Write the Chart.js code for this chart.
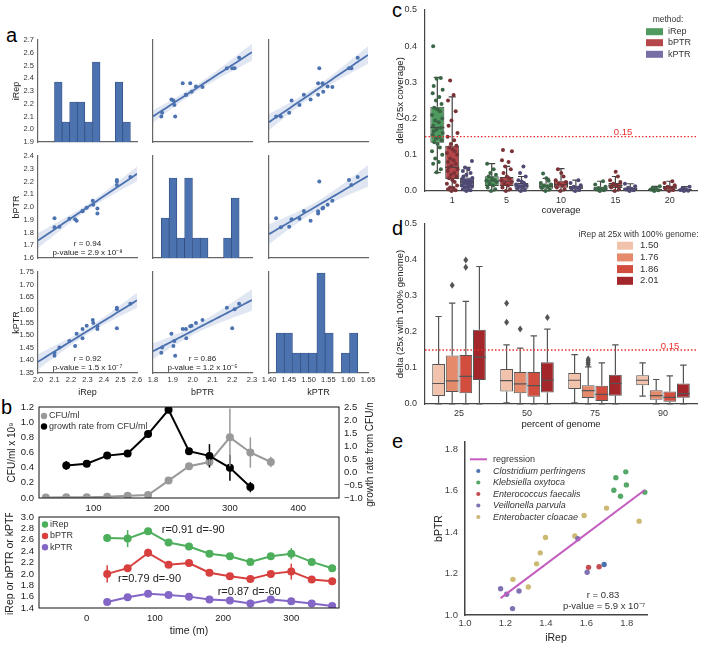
<!DOCTYPE html>
<html>
<head>
<meta charset="utf-8">
<title>replication rate figure</title>
<script src="https://cdn.jsdelivr.net/npm/chart.js@4.4.1/dist/chart.umd.min.js"></script>
<style>
  body { margin: 0; width: 704px; height: 651px; background: #fff; position: relative; overflow: hidden;
         font-family: 'Liberation Sans', Arial, sans-serif; }
  canvas { position: absolute; }
  .tag { position: absolute; font-size: 20px; line-height: 20px; color: #000; }
</style>
</head>
<body>
<div class="tag" style="left:6px;top:25px">a</div>
<div class="tag" style="left:1px;top:397px">b</div>
<div class="tag" style="left:392px;top:0px">c</div>
<div class="tag" style="left:392px;top:218px">d</div>
<div class="tag" style="left:392px;top:431px">e</div>
<script>
// ---------- a: the same 17 samples in every cell of the pair grid ----------
var iRep = [2.10, 2.10, 2.13, 2.19, 2.225, 2.234, 2.27, 2.27, 2.295, 2.332, 2.335, 2.36, 2.36, 2.478, 2.478, 2.478, 2.56];
var bPTR = [1.842, 1.912, 1.846, 1.908, 1.903, 1.893, 1.968, 1.966, 1.995, 2.05, 2.017, 1.95, 1.988, 2.173, 2.212, 2.20, 2.235];
var kPTR = [1.430, 1.418, 1.451, 1.477, 1.457, 1.505, 1.488, 1.524, 1.537, 1.560, 1.548, 1.524, 1.535, 1.608, 1.602, 1.527, 1.624];
var aNames = ['iRep', 'bPTR', 'kPTR'];
var aXRange = [[2.0, 2.6], [1.8, 2.3], [1.40, 1.65]];
var aYRange = [[1.9, 2.7], [1.6, 2.4], [1.35, 1.75]];
var aStep = [0.1, 0.1, 0.05];
var aDec = [1, 1, 2];
var aCorr = {
  '1,0': ['r = 0.94', 'p-value = 2.9 x 10⁻⁸'],
  '2,0': ['r = 0.92', 'p-value = 1.5 x 10⁻⁷'],
  '2,1': ['r = 0.86', 'p-value = 1.2 x 10⁻⁵']
};

// ---------- b: time course ----------
var cfuTime = [30, 60, 90, 120, 150, 180, 210, 240, 270, 300, 330, 360];
var cfu = [0.005, 0.01, 0.01, 0.015, 0.03, 0.04, 0.23, 0.42, 0.475, 0.80, 0.60, 0.475];
var cfuErr = [0, 0, 0, 0, 0, 0, 0, 0.02, 0.04, 0.38, 0.2, 0.07];
var rateTime = [60, 90, 120, 150, 180, 210, 240, 270, 300, 330];
var rate = [0.25, 0.32, 0.63, 0.71, 1.46, 2.39, 0.80, 0.62, 0.16, -0.58];
var rateErr = [0.17, 0, 0, 0, 0, 0, 0, 0.45, 0.5, 0.2];
var ptrTime = [30, 60, 90, 120, 150, 180, 210, 240, 270, 300, 330, 360];
var iRepT = [2.63, 2.62, 2.75, 2.55, 2.48, 2.355, 2.31, 2.21, 2.31, 2.355, 2.21, 2.10];
var iRepTErr = [0.06, 0.15, 0.02, 0, 0, 0, 0, 0, 0, 0.1, 0, 0];
var bPTRT = [2.00, 2.10, 2.37, 2.16, 2.19, 2.02, 1.96, 1.91, 2.00, 2.04, 1.90, 1.87];
var bPTRTErr = [0.15, 0.02, 0.07, 0.04, 0, 0, 0, 0, 0, 0.14, 0, 0];
var kPTRT = [1.505, 1.59, 1.65, 1.63, 1.60, 1.55, 1.53, 1.48, 1.55, 1.52, 1.48, 1.435];

// ---------- c: delta vs coverage ----------
var covLabels = ['1', '5', '10', '15', '20'];
var cIRep = { lo: [0.051, 0, 0, 0, 0], q1: [0.133, 0.014, 0.0065, 0.002, 0.002], med: [0.175, 0.028, 0.013, 0.006, 0.004],
              q3: [0.2325, 0.0406, 0.021, 0.012, 0.0055], hi: [0.314, 0.0757, 0.035, 0.027, 0.013] };
var cBPTR = { lo: [0, 0, 0, 0, 0], q1: [0.033, 0.014, 0.009, 0.008, 0.004], med: [0.065, 0.027, 0.018, 0.015, 0.009],
              q3: [0.125, 0.039, 0.0286, 0.022, 0.014], hi: [0.26, 0.068, 0.062, 0.04, 0.027] };
var cKPTR = { lo: [0, 0, 0, 0, 0], q1: [0.011, 0.006, 0.0046, 0.003, 0.001], med: [0.025, 0.014, 0.009, 0.006, 0.003],
              q3: [0.037, 0.022, 0.014, 0.01, 0.0055], hi: [0.065, 0.04, 0.03, 0.02, 0.012] };
var cIRepPts = [
  [0.052, 0.06, 0.075, 0.08, 0.09, 0.1, 0.11, 0.12, 0.13, 0.135, 0.14, 0.145, 0.15, 0.155, 0.16, 0.165, 0.17, 0.175, 0.18, 0.19, 0.195, 0.2, 0.21, 0.22, 0.225, 0.23, 0.24, 0.25, 0.26, 0.27, 0.28, 0.29, 0.31, 0.312, 0.4],
  [0, 0.005, 0.01, 0.015, 0.02, 0.025, 0.028, 0.03, 0.035, 0.04, 0.045, 0.05, 0.06, 0.075],
  [0, 0.004, 0.008, 0.012, 0.015, 0.018, 0.022, 0.028, 0.035, 0.048],
  [0, 0.002, 0.004, 0.006, 0.008, 0.012, 0.018, 0.027],
  [0, 0.002, 0.004, 0.006, 0.009, 0.013]
];
var cBPTRPts = [
  [0, 0.002, 0.005, 0.008, 0.01, 0.015, 0.02, 0.025, 0.03, 0.035, 0.04, 0.045, 0.05, 0.055, 0.06, 0.065, 0.07, 0.075, 0.08, 0.085, 0.09, 0.1, 0.105, 0.11, 0.115, 0.12, 0.125, 0.13, 0.14, 0.15, 0.16, 0.18, 0.195, 0.22, 0.25, 0.265, 0.305],
  [0, 0.005, 0.01, 0.015, 0.02, 0.025, 0.03, 0.035, 0.04, 0.05, 0.06, 0.068, 0.08, 0.085, 0.11, 0.113],
  [0, 0.005, 0.01, 0.015, 0.02, 0.025, 0.03, 0.04, 0.05, 0.06],
  [0, 0.005, 0.01, 0.015, 0.02, 0.025, 0.03, 0.04, 0.053],
  [0, 0.003, 0.006, 0.009, 0.012, 0.016, 0.022, 0.027]
];
var cKPTRPts = [
  [0, 0.002, 0.005, 0.008, 0.01, 0.012, 0.015, 0.018, 0.02, 0.022, 0.025, 0.028, 0.03, 0.033, 0.036, 0.04, 0.045, 0.05, 0.055, 0.06, 0.065, 0.083],
  [0, 0.003, 0.006, 0.009, 0.012, 0.015, 0.018, 0.022, 0.026, 0.03, 0.04, 0.05, 0.068],
  [0, 0.003, 0.006, 0.009, 0.012, 0.016, 0.022, 0.03],
  [0, 0.002, 0.004, 0.006, 0.009, 0.013, 0.02],
  [0, 0.001, 0.003, 0.005, 0.008, 0.012]
];

// ---------- d: delta vs percent of genome ----------
var pctLabels = ['25', '50', '75', '90'];
var dLevels = ['1.50', '1.76', '1.86', '2.01'];
var d150 = { lo: [0, 0.003, 0.003, 0.022], q1: [0.022, 0.035, 0.042, 0.052], med: [0.057, 0.065, 0.066, 0.066],
             q3: [0.111, 0.097, 0.086, 0.080], hi: [0.243, 0.164, 0.137, 0.114], out: [[], [0.28, 0.227], [], []] };
var d176 = { lo: [0, 0, 0, 0], q1: [0.033, 0.030, 0.017, 0.012], med: [0.064, 0.056, 0.037, 0.023],
             q3: [0.135, 0.089, 0.052, 0.038], hi: [0.28, 0.155, 0.103, 0.068], out: [[0.33], [0.208], [0.11, 0.115, 0.12, 0.125], []] };
var d186 = { lo: [0, 0, 0, 0], q1: [0.030, 0.020, 0.008, 0.0065], med: [0.077, 0.051, 0.027, 0.0185],
             q3: [0.136, 0.089, 0.051, 0.035], hi: [0.285, 0.189, 0.114, 0.078], out: [[0.38, 0.40], [], [], []] };
var d201 = { lo: [0, 0, 0, 0], q1: [0.067, 0.032, 0.023, 0.0176], med: [0.13, 0.066, 0.057, 0.029],
             q3: [0.206, 0.116, 0.081, 0.057], hi: [0.382, 0.208, 0.164, 0.108], out: [[], [0.24], [], []] };

// ---------- e: bPTR vs iRep by species ----------
var eClostridium = [[1.688, 1.244]];
var eKlebsiella = [[1.746, 1.663], [1.795, 1.691], [1.798, 1.628], [1.736, 1.602], [1.769, 1.573], [1.889, 1.593]];
var eEnterococcus = [[1.611, 1.230], [1.663, 1.233]];
var eVeillonella = [[1.176, 1.127], [1.206, 1.100], [1.267, 1.116], [1.235, 1.031], [1.558, 1.368], [1.604, 1.206]];
var eEnterobacter = [[1.237, 1.172], [1.313, 1.135], [1.354, 1.247], [1.372, 1.300], [1.398, 1.374], [1.543, 1.381], [1.589, 1.480], [1.70, 1.516], [1.861, 1.453]];

// ---------- setup ----------
var FONT = "'Liberation Sans', Arial, sans-serif";
Chart.defaults.font.family = FONT;
Chart.defaults.color = '#333';
Chart.defaults.animation = false;
Chart.defaults.responsive = false;
Chart.defaults.plugins.legend.display = false;
Chart.defaults.plugins.tooltip.enabled = false;

// horizontal spread of strip points, as a share of box width
var JIT = [-0.05, 0.25, -0.3, 0.1, -0.15, 0.35, -0.38, 0.18, 0.02, -0.22, 0.3, -0.1, 0.14, -0.33, 0.38, -0.26];

function axis(o) {
  var s = {
    type: o.type || 'linear', position: o.pos, offset: o.type === 'category',
    grid: { display: false, drawTicks: false },
    border: { display: o.border !== false, color: o.bc || '#666', width: o.bw || 1.2 },
    ticks: { display: o.ticks !== false, padding: o.tp || 3, color: o.tc || '#333', font: { size: o.fs || 8 },
             autoSkip: false, maxRotation: 0, minRotation: 0 },
    title: o.title ? { display: true, text: o.title, color: '#222', font: { size: o.tfs || 9 }, padding: o.tpad } : { display: false }
  };
  if (s.type === 'linear') {
    var dec = o.dec;
    s.min = o.range[0];
    s.max = o.range[1];
    s.ticks.stepSize = o.step;
    s.ticks.includeBounds = false;
    s.ticks.callback = function (v) { return Number(v).toFixed(dec).replace('-', '−'); };
  }
  return s;
}

function decoPlugin(d) {
  return {
    id: 'deco',
    afterDatasetsDraw: function (ch) {
      var ctx = ch.ctx, a = ch.chartArea, ox = d.off.x, oy = d.off.y;
      ctx.save();
      if (d.boxes) drawBoxes(ch, d.boxes);
      if (d.hline) {
        var hy = ch.scales.y.getPixelForValue(d.hline.v);
        ctx.strokeStyle = d.hline.color; ctx.lineWidth = 1.3; ctx.setLineDash([1.5, 2]);
        ctx.beginPath(); ctx.moveTo(a.left, hy); ctx.lineTo(a.right, hy); ctx.stroke();
        ctx.setLineDash([]);
      }
      (d.err || []).forEach(function (e) {
        var meta = ch.getDatasetMeta(e.ds), ds = ch.data.datasets[e.ds], ys = ch.scales[meta.yAxisID];
        ctx.strokeStyle = ds.borderColor; ctx.lineWidth = 1.5;
        meta.data.forEach(function (pt, j) {
          var v = ds.data[j].y, s = e.v[j];
          if (!s) return;
          ctx.beginPath();
          ctx.moveTo(pt.x, ys.getPixelForValue(v - s));
          ctx.lineTo(pt.x, ys.getPixelForValue(v + s));
          ctx.stroke();
        });
      });
      if (d.frame) {
        ctx.strokeStyle = '#111'; ctx.lineWidth = 1;
        ctx.strokeRect(a.left, a.top, a.right - a.left, a.bottom - a.top);
      }
      (d.marks || []).forEach(function (m) {
        var x = m.x - ox, y = m.y - oy;
        ctx.fillStyle = m.color; ctx.strokeStyle = m.color;
        if (m.type === 'dot') { ctx.beginPath(); ctx.arc(x, y, m.r, 0, Math.PI * 2); ctx.fill(); }
        else if (m.type === 'rect') ctx.fillRect(x, y - m.h / 2, m.w, m.h);
        else { ctx.lineWidth = m.lw; ctx.beginPath(); ctx.moveTo(x, y); ctx.lineTo(x + m.w, y); ctx.stroke(); }
      });
      (d.text || []).forEach(function (t) {
        var x, y;
        if (t.px) { x = t.x - ox; y = t.y - oy; }
        else { x = ch.scales[t.xs || 'x'].getPixelForValue(t.x); y = ch.scales[t.ys || 'y'].getPixelForValue(t.y); }
        ctx.save();
        ctx.translate(x, y);
        if (t.rot) ctx.rotate(t.rot);
        ctx.font = (t.style || '') + ' ' + (t.size || 9) + 'px ' + FONT;
        ctx.fillStyle = t.color || '#333';
        ctx.textAlign = t.align || 'center';
        ctx.textBaseline = 'middle';
        ctx.fillText(t.s, 0, 0);
        ctx.restore();
      });
      ctx.restore();
    }
  };
}

function drawBoxes(ch, boxes) {
  var ctx = ch.ctx, ys = ch.scales.y;
  function Y(v) { return ys.getPixelForValue(v); }
  boxes.forEach(function (b, i) {
    var meta = ch.getDatasetMeta(i);
    meta.data.forEach(function (bar, j) {
      var x = bar.x, w = bar.width;
      ctx.strokeStyle = b.line; ctx.lineWidth = 1.2;
      ctx.beginPath();
      ctx.moveTo(x, Y(b.q3[j])); ctx.lineTo(x, Y(b.hi[j]));
      ctx.moveTo(x, Y(b.q1[j])); ctx.lineTo(x, Y(b.lo[j]));
      ctx.moveTo(x - w / 4, Y(b.hi[j])); ctx.lineTo(x + w / 4, Y(b.hi[j]));
      ctx.moveTo(x - w / 4, Y(b.lo[j])); ctx.lineTo(x + w / 4, Y(b.lo[j]));
      ctx.moveTo(x - w / 2, Y(b.med[j])); ctx.lineTo(x + w / 2, Y(b.med[j]));
      ctx.stroke();
      ctx.fillStyle = b.line;
      (b.out ? b.out[j] : []).forEach(function (v) {
        var y = Y(v);
        ctx.beginPath(); ctx.moveTo(x, y - 3.5); ctx.lineTo(x + 2.5, y); ctx.lineTo(x, y + 3.5); ctx.lineTo(x - 2.5, y); ctx.closePath(); ctx.fill();
      });
      ctx.fillStyle = b.ptColor;
      (b.pts ? b.pts[j] : []).forEach(function (v, k) {
        ctx.beginPath(); ctx.arc(x + JIT[k % JIT.length] * w, Y(v), 2, 0, Math.PI * 2); ctx.fill();
      });
    });
  });
}

function place(box, pad, cfg, deco) {
  var cv = document.createElement('canvas');
  var left = box.l - pad.l, top = box.t - pad.t;
  cv.width = box.w + pad.l + pad.r;
  cv.height = box.h + pad.t + pad.b;
  cv.style.left = left + 'px';
  cv.style.top = top + 'px';
  document.body.appendChild(cv);
  var hasRight = false;
  Object.keys(cfg.options.scales).forEach(function (id) {
    var s = cfg.options.scales[id];
    if (s.display === false) return;
    if (s.position === 'right') hasRight = true;
    s.afterFit = function (sc) {
      sc.paddingLeft = sc.paddingRight = sc.paddingTop = sc.paddingBottom = 0;
      if (s.position === 'left') sc.width = pad.l;
      else if (s.position === 'right') sc.width = pad.r;
      else sc.height = pad.b;
    };
  });
  cfg.options.layout = { autoPadding: false, padding: { top: pad.t, bottom: 0, left: 0, right: hasRight ? 0 : pad.r } };
  cfg.options.maintainAspectRatio = false;
  deco = deco || {};
  deco.off = { x: left, y: top };
  cfg.plugins = [decoPlugin(deco)];
  return new Chart(cv, cfg);
}

function hist(v, nb) {
  var lo = Math.min.apply(null, v), hi = Math.max.apply(null, v), w = (hi - lo) / nb;
  var n = [], x = [];
  for (var i = 0; i < nb; i++) { n.push(0); x.push(lo + w * (i + 0.5)); }
  v.forEach(function (t) { n[Math.min(nb - 1, Math.floor((t - lo) / w + 1e-9))]++; });
  return { x: x, n: n };
}

function fit(xs, ys) {
  var n = xs.length, mx = 0, my = 0, sxx = 0, sxy = 0, syy = 0, i;
  for (i = 0; i < n; i++) { mx += xs[i]; my += ys[i]; }
  mx /= n; my /= n;
  for (i = 0; i < n; i++) {
    var dx = xs[i] - mx, dy = ys[i] - my;
    sxx += dx * dx; sxy += dx * dy; syy += dy * dy;
  }
  var b = sxy / sxx;
  return { a: my - b * mx, b: b, mx: mx, sxx: sxx, n: n, s: Math.sqrt((syy - b * sxy) / (n - 2)) };
}

// ---------- a: pair grid ----------
var aVals = [iRep, bPTR, kPTR];
var aCol = [{ l: 38, w: 99 }, { l: 153, w: 99 }, { l: 269, w: 99 }];
var aRow = [{ t: 40, h: 102 }, { t: 156, h: 102 }, { t: 272, h: 101 }];

function drawPair(r, c) {
  var box = { l: aCol[c].l, t: aRow[r].t, w: aCol[c].w, h: aRow[r].h };
  var pad = { l: c === 0 ? 38 : 14, t: 4, r: c === 2 ? 14 : 6, b: r === 2 ? 28 : 4 };
  var scales = {
    x: axis({ pos: 'bottom', range: aXRange[c], step: aStep[c], dec: aDec[c], ticks: r === 2, fs: 7.5, tp: 2,
              title: r === 2 ? aNames[c] : null, tfs: 9, tpad: { top: 0, bottom: 3.5 } }),
    y: axis({ pos: 'left', range: aYRange[r], step: aStep[r], dec: aDec[r], ticks: c === 0, fs: 7.5, tp: 4,
              title: c === 0 ? aNames[r] : null, tfs: 9, tpad: { top: 11.5, bottom: 0 } })
  };
  var datasets, deco = { text: [] };
  if (r === c) {
    var h = hist(aVals[c], 10);
    scales.yh = { display: false, min: 0, max: aRow[r].h / 20 };
    datasets = [{
      type: 'bar', yAxisID: 'yh',
      data: h.x.map(function (x, i) { return { x: x, y: h.n[i] }; }),
      backgroundColor: '#4c72b0', borderColor: '#2e4a7d', borderWidth: 0.7,
      barPercentage: 1, categoryPercentage: 1
    }];
  } else {
    var xs = aVals[c], ys = aVals[r], f = fit(xs, ys), xr = aXRange[c];
    var mid = [], up = [], low = [];
    for (var k = 0; k <= 24; k++) {
      var x = xr[0] + (xr[1] - xr[0]) * k / 24;
      var yh = f.a + f.b * x;
      var ci = 2.131 * f.s * Math.sqrt(1 / f.n + (x - f.mx) * (x - f.mx) / f.sxx);
      mid.push({ x: x, y: yh }); up.push({ x: x, y: yh + ci }); low.push({ x: x, y: yh - ci });
    }
    datasets = [
      { type: 'scatter', data: xs.map(function (v, i) { return { x: v, y: ys[i] }; }),
        backgroundColor: '#4c72b0', borderWidth: 0, pointRadius: 2, clip: false },
      { type: 'line', data: mid, borderColor: '#4c72b0', borderWidth: 1.8, pointRadius: 0 },
      { type: 'line', data: up, borderWidth: 0, pointRadius: 0, fill: false },
      { type: 'line', data: low, borderWidth: 0, pointRadius: 0, fill: '-1', backgroundColor: 'rgba(76,114,176,0.17)' }
    ];
    var note = aCorr[r + ',' + c];
    if (note) {
      var yr = aYRange[r], cx = (xr[0] + xr[1]) / 2;
      deco.text.push({ s: note[0], x: cx, y: yr[0] + (yr[1] - yr[0]) * 0.14, size: 8, color: '#222' });
      deco.text.push({ s: note[1], x: cx, y: yr[0] + (yr[1] - yr[0]) * 0.055, size: 8, color: '#222' });
    }
  }
  place(box, pad, { type: 'scatter', data: { datasets: datasets }, options: { scales: scales } }, deco);
}
for (var r = 0; r < 3; r++) for (var c = 0; c < 3; c++) drawPair(r, c);

// ---------- b: CFU and growth rate ----------
function pts(t, v) { return t.map(function (x, i) { return { x: x, y: v[i] }; }); }
function series(t, v, color, yid) {
  return { data: pts(t, v), yAxisID: yid || 'y', borderColor: color, backgroundColor: color,
           borderWidth: 2, pointRadius: 4, pointBorderWidth: 0 };
}

place({ l: 39, t: 407, w: 300, h: 91 }, { l: 39, t: 4, r: 42, b: 16 }, {
  type: 'line',
  data: { datasets: [series(rateTime, rate, '#000', 'y1'), series(cfuTime, cfu, '#999')] },
  options: { scales: {
    x: axis({ pos: 'bottom', range: [20, 460], step: 100, dec: 0, fs: 9.5, tp: 5, border: false, tc: '#222' }),
    y: axis({ pos: 'left', range: [0, 1.2], step: 0.2, dec: 1, fs: 9.5, tp: 5, border: false, tc: '#222',
              title: 'CFU/ml x 10⁹', tfs: 10, tpad: { top: 6, bottom: 0 } }),
    y1: axis({ pos: 'right', range: [-1, 2.5], step: 0.5, dec: 1, fs: 9.5, tp: 5, border: false, tc: '#222' })
  } }
}, {
  frame: true,
  err: [{ ds: 0, v: rateErr }, { ds: 1, v: cfuErr }],
  marks: [{ type: 'dot', x: 44, y: 416, r: 3.2, color: '#999' }, { type: 'dot', x: 44, y: 426.5, r: 3.2, color: '#000' }],
  text: [
    { s: 'CFU/ml', px: true, x: 49, y: 416, align: 'left', size: 9 },
    { s: 'growth rate from CFU/ml', px: true, x: 49, y: 426.5, align: 'left', size: 9 },
    { s: 'growth rate from CFU/ml', px: true, x: 370, y: 452, rot: -Math.PI / 2, size: 10, color: '#222' }
  ]
});

place({ l: 39, t: 517, w: 300, h: 91 }, { l: 39, t: 4, r: 10, b: 32 }, {
  type: 'line',
  data: { datasets: [series(ptrTime, iRepT, '#4dae5b'), series(ptrTime, bPTRT, '#d7403f'), series(ptrTime, kPTRT, '#8366c6')] },
  options: { scales: {
    x: axis({ pos: 'bottom', range: [-70, 370], step: 100, dec: 0, fs: 9.5, tp: 5, border: false, tc: '#222',
              title: 'time (m)', tfs: 10.5, tpad: { top: 0, bottom: 3 } }),
    y: axis({ pos: 'left', range: [1.4, 3.0], step: 0.2, dec: 1, fs: 9.5, tp: 5, border: false, tc: '#222',
              title: 'iRep or bPTR or kPTR', tfs: 10.5, tpad: { top: 4, bottom: 0 } })
  } }
}, {
  frame: true,
  err: [{ ds: 0, v: iRepTErr }, { ds: 1, v: bPTRTErr }],
  marks: [{ type: 'dot', x: 45, y: 524.5, r: 3.2, color: '#4dae5b' }, { type: 'dot', x: 45, y: 536, r: 3.2, color: '#d7403f' },
          { type: 'dot', x: 45, y: 547.3, r: 3.2, color: '#8366c6' }],
  text: [
    { s: 'iRep', px: true, x: 50, y: 524.5, align: 'left', size: 9 },
    { s: 'bPTR', px: true, x: 50, y: 536, align: 'left', size: 9 },
    { s: 'kPTR', px: true, x: 50, y: 547.3, align: 'left', size: 9 },
    { s: 'r=0.91 d=-90', x: 110, y: 2.78, align: 'left', size: 11, color: '#222' },
    { s: 'r=0.79 d=-90', x: 46, y: 1.905, align: 'left', size: 11, color: '#222' },
    { s: 'r=0.87 d=-60', x: 192, y: 1.676, align: 'left', size: 11, color: '#222' }
  ]
});

// ---------- c: boxes by coverage ----------
function floating(b, color) {
  return { data: b.q1.map(function (q, i) { return [q, b.q3[i]]; }), backgroundColor: color, borderColor: '#444',
           borderWidth: 1, borderSkipped: false, barPercentage: 0.94, categoryPercentage: 0.82 };
}
var cColors = ['#4f9a5e', '#b5474b', '#776ea6'];
var cDots = ['#3a6646', '#7a3236', '#4f4a73'];
place({ l: 425, t: 10, w: 272, h: 181 }, { l: 40, t: 8, r: 7, b: 28 }, {
  type: 'bar',
  data: { labels: covLabels, datasets: [floating(cIRep, cColors[0]), floating(cBPTR, cColors[1]), floating(cKPTR, cColors[2])] },
  options: { scales: {
    x: axis({ type: 'category', pos: 'bottom', fs: 9, tp: 4, bc: '#444', title: 'coverage', tfs: 9.5, tpad: { top: 0, bottom: 2.6 } }),
    y: axis({ pos: 'left', range: [0, 0.5], step: 0.1, dec: 1, fs: 9, tp: 8, bc: '#444',
              title: 'delta (25x coverage)', tfs: 9.5, tpad: { top: 9.6, bottom: 0 } })
  } }
}, {
  boxes: [
    Object.assign({ line: '#444', pts: cIRepPts, ptColor: cDots[0] }, cIRep),
    Object.assign({ line: '#444', pts: cBPTRPts, ptColor: cDots[1] }, cBPTR),
    Object.assign({ line: '#444', pts: cKPTRPts, ptColor: cDots[2] }, cKPTR)
  ],
  hline: { v: 0.15, color: '#e8312f' },
  marks: [{ type: 'rect', x: 646, y: 31.7, w: 17, h: 7, color: cColors[0] }, { type: 'rect', x: 646, y: 42.7, w: 17, h: 7, color: cColors[1] },
          { type: 'rect', x: 646, y: 54.3, w: 17, h: 7, color: cColors[2] }],
  text: [
    { s: '0.15', px: true, x: 623, y: 132, size: 9.5, color: '#e8312f' },
    { s: 'method:', px: true, x: 668, y: 20, size: 8.5 },
    { s: 'iRep', px: true, x: 668, y: 31.7, align: 'left', size: 9 },
    { s: 'bPTR', px: true, x: 668, y: 42.7, align: 'left', size: 9 },
    { s: 'kPTR', px: true, x: 668, y: 54.3, align: 'left', size: 9 }
  ]
});

// ---------- d: boxes by percent of genome ----------
var dColors = ['#f2c3ac', '#e68a6c', '#d24d3d', '#a3262a'];
function dFloat(b, color) {
  var s = floating(b, color);
  s.borderColor = '#555'; s.barPercentage = 0.94; s.categoryPercentage = 0.8;
  return s;
}
place({ l: 425, t: 224, w: 272, h: 180 }, { l: 40, t: 8, r: 7, b: 28 }, {
  type: 'bar',
  data: { labels: pctLabels, datasets: [dFloat(d150, dColors[0]), dFloat(d176, dColors[1]), dFloat(d186, dColors[2]), dFloat(d201, dColors[3])] },
  options: { scales: {
    x: axis({ type: 'category', pos: 'bottom', fs: 9, tp: 4, bc: '#444', title: 'percent of genome', tfs: 9.5, tpad: { top: 0, bottom: 1.5 } }),
    y: axis({ pos: 'left', range: [0, 0.5], step: 0.1, dec: 1, fs: 9, tp: 8, bc: '#444',
              title: 'delta (25x with 100% genome)', tfs: 9.5, tpad: { top: 9.6, bottom: 0 } })
  } }
}, {
  boxes: [
    Object.assign({ line: '#555' }, d150), Object.assign({ line: '#555' }, d176),
    Object.assign({ line: '#555' }, d186), Object.assign({ line: '#555' }, d201)
  ],
  hline: { v: 0.15, color: '#e8312f' },
  marks: dColors.map(function (col, i) { return { type: 'rect', x: 617, y: 245.7 + i * 11.7, w: 16, h: 8, color: col }; }),
  text: [
    { s: '0.15', px: true, x: 670, y: 346, size: 9.5, color: '#e8312f' },
    { s: 'iRep at 25x with 100% genome:', px: true, x: 638.5, y: 234.3, size: 8.5 }
  ].concat(dLevels.map(function (l, i) { return { s: l, px: true, x: 640, y: 245.7 + i * 11.7, align: 'left', size: 9.5 }; }))
});

// ---------- e: bPTR vs iRep ----------
var eGroups = [
  { name: 'Clostridium perfringens', pts: eClostridium, color: '#4c72b0' },
  { name: 'Klebsiella oxytoca', pts: eKlebsiella, color: '#55a868' },
  { name: 'Enterococcus faecalis', pts: eEnterococcus, color: '#c44e52' },
  { name: 'Veillonella parvula', pts: eVeillonella, color: '#8172b2' },
  { name: 'Enterobacter cloacae', pts: eEnterobacter, color: '#ccb974' }
];
var eAllX = [], eAllY = [];
eGroups.forEach(function (g) { g.pts.forEach(function (p) { eAllX.push(p[0]); eAllY.push(p[1]); }); });
var eFit = fit(eAllX, eAllY);
var eX0 = Math.min.apply(null, eAllX), eX1 = Math.max.apply(null, eAllX);
var eDatasets = [{ type: 'line', data: [{ x: eX0, y: eFit.a + eFit.b * eX0 }, { x: eX1, y: eFit.a + eFit.b * eX1 }],
                   borderColor: '#c45cc0', borderWidth: 2, pointRadius: 0 }];
eGroups.forEach(function (g) {
  eDatasets.push({ type: 'scatter', data: g.pts.map(function (p) { return { x: p[0], y: p[1] }; }),
                   backgroundColor: g.color, borderWidth: 0, pointRadius: 2.7, clip: false });
});
var eMarks = [{ type: 'line', x: 470, y: 459.3, w: 17, lw: 2, color: '#c45cc0' }];
var eText = [{ s: 'regression', px: true, x: 493, y: 459.3, align: 'left', size: 9 }];
eGroups.forEach(function (g, i) {
  var y = 471 + i * 11.5;
  eMarks.push({ type: 'dot', x: 478.3, y: y, r: 2.1, color: g.color });
  eText.push({ s: g.name, px: true, x: 493, y: y, align: 'left', size: 9, style: 'italic' });
});
eText.push({ s: 'r = 0.83', px: true, x: 603, y: 595, size: 9.5 });
eText.push({ s: 'p-value = 5.9 x 10⁻⁷', px: true, x: 604, y: 606.5, size: 9.5 });
place({ l: 465, t: 442, w: 182, h: 173 }, { l: 35, t: 6, r: 12, b: 32 }, {
  type: 'scatter',
  data: { datasets: eDatasets },
  options: { scales: {
    x: axis({ pos: 'bottom', range: [1.0, 1.9], step: 0.2, dec: 1, fs: 9.5, tp: 3, bc: '#444', bw: 1.5, tc: '#444',
              title: 'iRep', tfs: 10.5, tpad: { top: 0, bottom: 3 } }),
    y: axis({ pos: 'left', range: [1.0, 1.835], step: 0.2, dec: 1, fs: 9.5, tp: 7, bc: '#444', bw: 1.5, tc: '#444',
              title: 'bPTR', tfs: 10.5, tpad: { top: 2.7, bottom: 0 } })
  } }
}, { marks: eMarks, text: eText });
</script>
</body>
</html>
